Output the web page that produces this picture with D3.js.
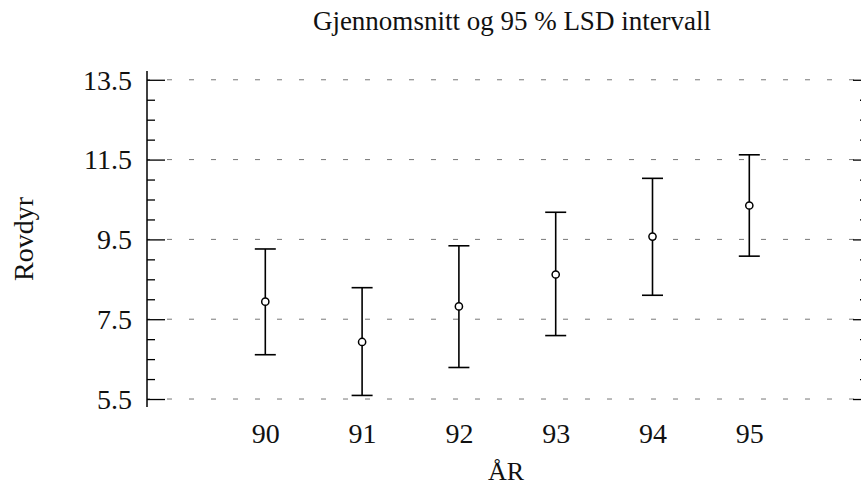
<!DOCTYPE html>
<html>
<head>
<meta charset="utf-8">
<script src="https://cdn.jsdelivr.net/npm/d3@7"></script>
<style>
  body { margin: 0; background: #fff; }
  svg { display: block; }
  svg text { font-family: "Liberation Serif", "Times New Roman", Times, Tinos, "DejaVu Serif", serif !important; fill: #111; }
</style>
</head>
<body>
<svg width="861" height="487"></svg>
<script>
// data
const years = [90, 91, 92, 93, 94, 95];
const means = [7.94, 6.93, 7.82, 8.62, 9.57, 10.35];
const lower = [6.61, 5.59, 6.29, 7.09, 8.10, 9.08];
const upper = [9.26, 8.29, 9.34, 10.18, 11.03, 11.62];
const yMajor = [5.5, 7.5, 9.5, 11.5, 13.5];
const yMinor = [6, 6.5, 7, 8, 8.5, 9, 10, 10.5, 11, 12, 12.5, 13];

const svg = d3.select('svg');
const serif = '"Liberation Serif", "Times New Roman", Times, serif';

const leftX = 147;
const rightX = 863;

// scales
const x = d3.scaleLinear().domain([90, 95]).range([265.3, 749.3]);
const y = d3.scaleLinear().domain([5.3, 13.72]).range([407, 71]);

// dashed gridlines at the major values
svg.append('g')
  .selectAll('line')
  .data(yMajor)
  .join('line')
    .attr('x1', leftX)
    .attr('x2', rightX)
    .attr('y1', d => y(d))
    .attr('y2', d => y(d))
    .attr('stroke', '#777')
    .attr('stroke-width', 1)
    .attr('stroke-dasharray', '5,17')
    .attr('stroke-dashoffset', -20);

// left axis, ticks pointing inward
const leftAxis = svg.append('g').attr('transform', `translate(${leftX},0)`);
leftAxis.append('g')
  .call(d3.axisRight(y).tickValues(yMajor).tickSize(18).tickFormat(''))
  .call(g => g.select('.domain').remove());
leftAxis.append('g')
  .call(d3.axisRight(y).tickValues(yMinor).tickSize(8).tickFormat(''))
  .call(g => g.select('.domain').remove());
leftAxis.append('line')
  .attr('y1', y.range()[0])
  .attr('y2', y.range()[1])
  .attr('stroke', '#000')
  .attr('stroke-width', 1.5);
leftAxis.selectAll('.tick line').attr('stroke', '#000').attr('stroke-width', 1.3);

// tick labels on the left
leftAxis.append('g')
  .attr('font-family', serif)
  .call(d3.axisLeft(y).tickValues(yMajor).tickSize(0).tickPadding(15).tickFormat(d3.format('.1f')))
  .attr('font-family', serif)
  .call(g => g.select('.domain').remove())
  .call(g => g.selectAll('text')
    .attr('font-size', 28)
    .attr('dy', '0.33em')
    .attr('fill', '#111'));

// right side ticks (axis line sits just off the picture)
const rightAxis = svg.append('g').attr('transform', `translate(${rightX},0)`);
rightAxis.append('g')
  .call(d3.axisLeft(y).tickValues(yMajor).tickSize(10).tickFormat(''))
  .call(g => g.select('.domain').remove());
rightAxis.append('g')
  .call(d3.axisLeft(y).tickValues(yMinor).tickSize(3).tickFormat(''))
  .call(g => g.select('.domain').remove());
rightAxis.selectAll('.tick line').attr('stroke', '#000').attr('stroke-width', 1.3);

// x tick labels, no axis line
svg.append('g')
  .attr('transform', `translate(0,${y(5.5)})`)
  .call(d3.axisBottom(x).tickValues(years).tickSize(0).tickPadding(0).tickFormat(d3.format('d')))
  .attr('font-family', serif)
  .call(g => g.select('.domain').remove())
  .call(g => g.selectAll('text')
    .attr('font-size', 28)
    .attr('y', 44)
    .attr('dy', 0)
    .attr('fill', '#111'));

// error bars
const capW = 21;
const bars = svg.append('g')
  .selectAll('g')
  .data(years)
  .join('g')
    .attr('stroke', '#000')
    .attr('stroke-width', 1.6);

bars.append('line')
  .attr('x1', d => x(d)).attr('x2', d => x(d))
  .attr('y1', (d, i) => y(lower[i]))
  .attr('y2', (d, i) => y(upper[i]));
bars.append('line')
  .attr('x1', d => x(d) - capW / 2).attr('x2', d => x(d) + capW / 2)
  .attr('y1', (d, i) => y(upper[i])).attr('y2', (d, i) => y(upper[i]));
bars.append('line')
  .attr('x1', d => x(d) - capW / 2).attr('x2', d => x(d) + capW / 2)
  .attr('y1', (d, i) => y(lower[i])).attr('y2', (d, i) => y(lower[i]));
bars.append('circle')
  .attr('cx', d => x(d))
  .attr('cy', (d, i) => y(means[i]))
  .attr('r', 3.6)
  .attr('fill', '#fff')
  .attr('stroke-width', 1.5);

// title and axis titles
svg.append('text')
  .attr('x', 512)
  .attr('y', 30)
  .attr('text-anchor', 'middle')
  .attr('font-family', serif)
  .attr('font-size', 27)
  .text('Gjennomsnitt og 95 % LSD intervall');

svg.append('text')
  .attr('x', 506)
  .attr('y', 480)
  .attr('text-anchor', 'middle')
  .attr('font-family', serif)
  .attr('font-size', 26)
  .text('ÅR');

svg.append('text')
  .attr('transform', `translate(33,239) rotate(-90)`)
  .attr('text-anchor', 'middle')
  .attr('font-family', serif)
  .attr('font-size', 28)
  .text('Rovdyr');
</script>
</body>
</html>
